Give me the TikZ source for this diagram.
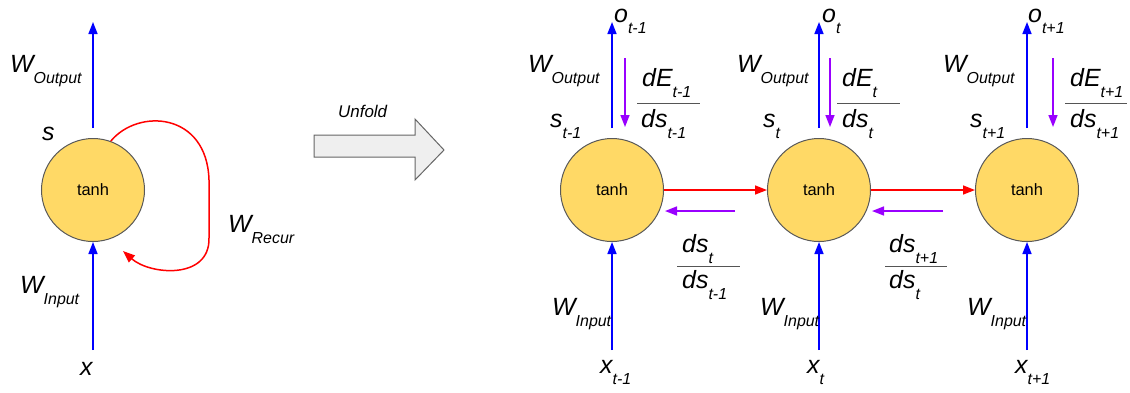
\documentclass[tikz,border=0pt]{standalone}
\usepackage{fontspec}
\setmainfont{Liberation Sans}
\usetikzlibrary{arrows.meta}
\definecolor{cellfill}{HTML}{FFD966}
\definecolor{celldraw}{HTML}{595959}
\definecolor{bluearr}{HTML}{0000FF}
\definecolor{redarr}{HTML}{FF0000}
\definecolor{purparr}{HTML}{9900FF}
\definecolor{unffill}{HTML}{EFEFEF}
\definecolor{unfdraw}{HTML}{666666}
\definecolor{barcol}{HTML}{555555}
\newcommand\mysub[1]{\raisebox{-11bp}{\fontsize{16}{16}\selectfont #1}}
\begin{document}
\begin{tikzpicture}[x=1bp,y=-1bp,
  cell/.style={circle, minimum size=103bp, inner sep=0pt, fill=cellfill, draw=celldraw, line width=1bp, font=\fontsize{16.5}{16.5}\selectfont},
  lab/.style={anchor=base west, inner sep=0pt, font=\fontsize{25}{25}\selectfont\itshape},
  tip/.style={-{Triangle[width=9bp,length=12bp]}},
  bluarrow/.style={tip, draw=bluearr, line width=1.5bp},
  redarrow/.style={tip, draw=redarr, line width=1.5bp},
  purarrow/.style={tip, draw=purparr, line width=1.5bp},
  fracbar/.style={draw=barcol, line width=1bp}]
\useasboundingbox (0,0) rectangle (1130,392);

% ---------- folded cell ----------
\node[cell] (L) at (93,190) {tanh};
\coordinate (Lot) at (93,22);
\coordinate (Lob) at (93,128);
\coordinate (Lin) at (93,350);
\coordinate (Lre) at (123,251);
\draw[bluarrow] (Lob) -- (Lot);
\draw[bluarrow] (Lin) -- (L.south);
\draw[redarrow] (L.70) .. controls (138,108) and (207,112) .. (209,180)
   -- (209,238) .. controls (210,280) and (150,275) .. (Lre);
\node[lab] (LWo) at (10,72) {W\mysub{Output}};
\node[lab] (Ls) at (42,140) {s};
\node[lab] (LWi) at (20,293) {W\mysub{Input}};
\node[lab] (Lx) at (80,375) {x};
\node[lab] (LWr) at (228,232) {W\mysub{Recur}};

% ---------- unfold arrow ----------
\draw[fill=unffill, draw=unfdraw, line width=1bp]
  (314,135) -- (415,135) -- (415,119) -- (444,150) -- (415,180) -- (415,157) -- (314,157) -- cycle;
\node[anchor=base west, inner sep=0pt, font=\fontsize{17}{17}\selectfont\itshape] (unf) at (338,117) {Unfold};

% ---------- cell t-1 ----------
\node[cell] (A) at (612,190) {tanh};
\coordinate (Aot) at (612,22);
\coordinate (Aob) at (612,128);
\coordinate (Ain) at (612,350);
\coordinate (Apt) at (625,58);
\coordinate (Apb) at (625,127);
\draw[bluarrow] (Aob) -- (Aot);
\draw[bluarrow] (Ain) -- (A.south);
\draw[purarrow] (Apt) -- (Apb);
\node[lab] (Ao) at (614,22) {o\mysub{t-1}};
\node[lab] (AWo) at (528,72) {W\mysub{Output}};
\node[lab] (As) at (550,127) {s\mysub{t-1}};
\node[lab] (AdE) at (642,86) {dE\mysub{t-1}};
\node[lab] (Ads) at (641,127) {ds\mysub{t-1}};
\draw[fracbar] (637,103) -- (700,103);
\node[lab] (AWi) at (552,315) {W\mysub{Input}};
\node[lab] (Ax) at (600,373) {x\mysub{t-1}};

% ---------- cell t ----------
\node[cell] (B) at (819,190) {tanh};
\coordinate (Bot) at (819,22);
\coordinate (Bob) at (819,128);
\coordinate (Bin) at (819,350);
\coordinate (Bpt) at (830,58);
\coordinate (Bpb) at (830,127);
\draw[bluarrow] (Bob) -- (Bot);
\draw[bluarrow] (Bin) -- (B.south);
\draw[purarrow] (Bpt) -- (Bpb);
\node[lab] (Bo) at (822,22) {o\mysub{t}};
\node[lab] (BWo) at (737,72) {W\mysub{Output}};
\node[lab] (Bs) at (763,127) {s\mysub{t}};
\node[lab] (BdE) at (842,86) {dE\mysub{t}};
\node[lab] (Bds) at (842,127) {ds\mysub{t}};
\draw[fracbar] (837,103) -- (900,103);
\node[lab] (BWi) at (760,315) {W\mysub{Input}};
\node[lab] (Bx) at (807,373) {x\mysub{t}};

% ---------- cell t+1 ----------
\node[cell] (C) at (1027,190) {tanh};
\coordinate (Cot) at (1027,22);
\coordinate (Cob) at (1027,128);
\coordinate (Cin) at (1027,350);
\coordinate (Cpt) at (1053,58);
\coordinate (Cpb) at (1053,127);
\draw[bluarrow] (Cob) -- (Cot);
\draw[bluarrow] (Cin) -- (C.south);
\draw[purarrow] (Cpt) -- (Cpb);
\node[lab] (Co) at (1028,22) {o\mysub{t+1}};
\node[lab] (CWo) at (943,72) {W\mysub{Output}};
\node[lab] (Cs) at (970,127) {s\mysub{t+1}};
\node[lab] (CdE) at (1070,86) {dE\mysub{t+1}};
\node[lab] (Cds) at (1070,127) {ds\mysub{t+1}};
\draw[fracbar] (1065,103) -- (1127,103);
\node[lab] (CWi) at (967,315) {W\mysub{Input}};
\node[lab] (Cx) at (1015,373) {x\mysub{t+1}};

% ---------- recurrent connections ----------
\draw[redarrow] (A.east) -- (B.west);
\draw[redarrow] (B.east) -- (C.west);
\coordinate (ABp) at (735,211);
\coordinate (ABq) at (665,211);
\coordinate (BCp) at (943,211);
\coordinate (BCq) at (872,211);
\draw[purarrow] (ABp) -- (ABq);
\draw[purarrow] (BCp) -- (BCq);
\node[lab] (ABn) at (682,252) {ds\mysub{t}};
\node[lab] (ABd) at (682,288) {ds\mysub{t-1}};
\draw[fracbar] (677,266) -- (740,266);
\node[lab] (BCn) at (889,252) {ds\mysub{t+1}};
\node[lab] (BCd) at (889,288) {ds\mysub{t}};
\draw[fracbar] (885,266) -- (947,266);
\end{tikzpicture}
\end{document}
